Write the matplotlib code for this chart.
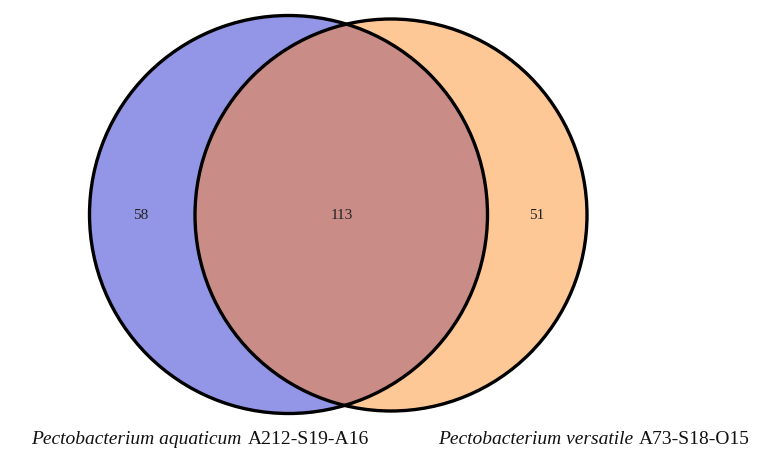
import matplotlib
matplotlib.use("Agg")
import matplotlib.pyplot as plt
from matplotlib.patches import Circle
from matplotlib.offsetbox import TextArea, HPacker, AnnotationBbox

# 集合名称（斜体部分 + 菌株号）
set_species = ["Pectobacterium aquaticum", "Pectobacterium versatile"]
set_strains = ["A212-S19-A16", "A73-S18-O15"]
# 各区域的基因数目：仅左, 交集, 仅右
only_left = 58
shared = 113
only_right = 51

plt.rcParams['font.family'] = ['Liberation Serif', 'DejaVu Serif']

fig = plt.figure(figsize=(7.57, 4.56), dpi=100)
ax = fig.add_axes([0, 0, 1, 1])
ax.set_xlim(0, 757)
ax.set_ylim(456, 0)
ax.set_aspect('equal')
ax.axis('off')

# 圆的位置和大小（像素坐标，只是布局）
c_left = (288.5, 215.5)
c_right = (391, 216)
r_left = 199
r_right = 196

blue = '#9396e6'
orange = '#fec896'
mix = '#c98c87'

left = Circle(c_left, r_left, facecolor=blue, edgecolor='none', zorder=1)
right = Circle(c_right, r_right, facecolor=orange, edgecolor='none', zorder=1)
ax.add_patch(left)
ax.add_patch(right)

# 交集区域：右圆用左圆裁剪
inter = Circle(c_right, r_right, facecolor=mix, edgecolor='none', zorder=2)
ax.add_patch(inter)
inter.set_clip_path(Circle(c_left, r_left, transform=ax.transData))

for c, r in [(c_left, r_left), (c_right, r_right)]:
    ax.add_patch(Circle(c, r, facecolor='none', edgecolor='black', lw=2.4, zorder=3))

# 数字标签
ax.text(141, 216, str(only_left), ha='center', va='center', fontsize=11, color='#222222', zorder=4)
ax.text(342, 216, str(shared), ha='center', va='center', fontsize=11, color='#222222', zorder=4)
ax.text(537, 216, str(only_right), ha='center', va='center', fontsize=11, color='#222222', zorder=4)

# 底部的集合名称
label_x = [200, 594]
for i in range(len(set_species)):
    t1 = TextArea(set_species[i], textprops=dict(style='italic', fontsize=14, color='#111111'))
    t2 = TextArea(set_strains[i], textprops=dict(fontsize=14, color='#111111'))
    box = HPacker(children=[t1, t2], align='baseline', pad=0, sep=4)
    ab = AnnotationBbox(box, (label_x[i], 440), xycoords='data', frameon=False,
                        box_alignment=(0.5, 0.5))
    ax.add_artist(ab)

fig.savefig('out.png', dpi=100)
